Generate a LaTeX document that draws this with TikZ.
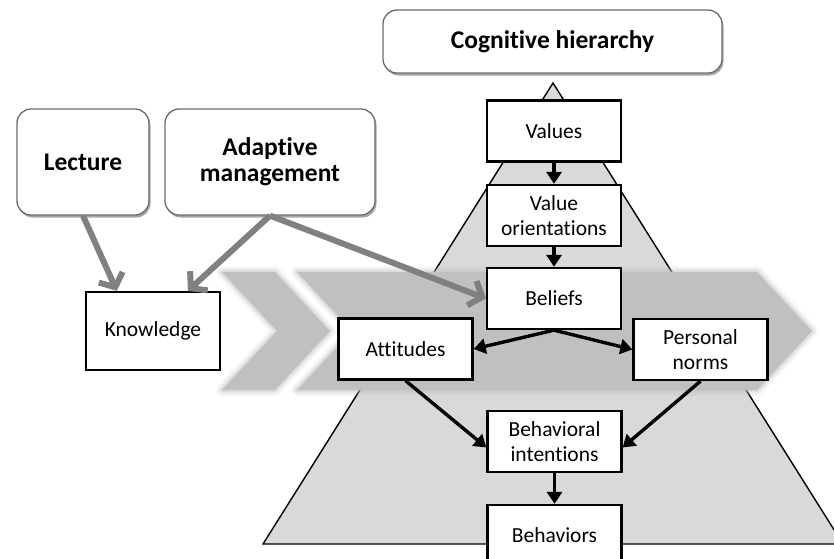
\documentclass[tikz,border=0pt]{standalone}
\usepackage{fontspec}
\setmainfont{Carlito}[Ligatures=NoCommon]
\usetikzlibrary{arrows.meta,shadows}

\definecolor{pyramidgray}{HTML}{D9D9D9}
\definecolor{chevgray}{HTML}{C0C0C0}
\definecolor{arrowgray}{HTML}{808080}
\definecolor{framegray}{HTML}{6A6A6A}

\begin{document}
\begin{tikzpicture}[x=1pt, y=-1pt,
    box/.style={draw=black, line width=2.3pt, fill=white, align=center, inner sep=0pt,
        minimum width=134pt, minimum height=61pt, font=\fontsize{21.5}{25}\selectfont},
    roundbox/.style={draw=framegray, line width=1.3pt, fill=white, rounded corners=14pt,
        align=center, inner sep=0pt, font=\bfseries\fontsize{25.5}{26}\selectfont,
        drop shadow={shadow xshift=1.5pt, shadow yshift=-2.5pt, fill=black, opacity=0.35}},
    feed/.style={draw=arrowgray, line width=6pt, -{Straight Barb[length=11pt,width=26pt]}},
    link/.style={draw=black, line width=3.4pt, -{Triangle[length=12pt,width=15pt]}}]
    \path[use as bounding box] (0,0) rectangle (834,558);
    \clip (0,0) rectangle (834,558);

    % pyramid
    \filldraw[fill=pyramidgray, draw=black, line width=1.4pt] (553,83) -- (843,544) -- (263,544) -- cycle;

    % chevrons, soft edge first
    \foreach \w/\o in {12/0.12, 8/0.2, 4/0.35}{
        \draw[chevgray, line width=\w pt, opacity=\o, line join=round]
            (222,272) -- (275,272) -- (330,331) -- (275,390) -- (222,390) -- (277,331) -- cycle
            (297,272) -- (757,272) -- (812,331) -- (757,390) -- (297,390) -- (352,331) -- cycle;
    }
    \fill[chevgray] (222,272) -- (275,272) -- (330,331) -- (275,390) -- (222,390) -- (277,331) -- cycle;
    \fill[chevgray] (297,272) -- (757,272) -- (812,331) -- (757,390) -- (297,390) -- (352,331) -- cycle;

    \node[roundbox, minimum width=339pt, minimum height=63pt] (cog) at (552.5,41.5) {Cognitive hierarchy};
    \node[roundbox, minimum width=132pt, minimum height=106pt] (lecture) at (83,162) {Lecture};
    \node[roundbox, minimum width=210pt, minimum height=106pt] (adapt) at (270,162) {Adaptive\\management};

    \node[box, minimum height=78pt] (know) at (153,331) {Knowledge};
    \node[box] (values) at (554,131) {Values};
    \node[box] (valor) at (554,215.5) {Value\\orientations};
    \node[box] (beliefs) at (554,298.5) {Beliefs};
    \node[box] (attitudes) at (405.5,349) {Attitudes};
    \node[box] (norms) at (700.5,349.5) {Personal\\norms};
    \node[box] (intent) at (554.5,441.5) {Behavioral\\intentions};
    \node[box] (behav) at (554.5,535.5) {Behaviors};

    \draw[feed] (lecture.south) -- (know.132);
    \draw[feed] (adapt.south) -- (know.49);
    \draw[feed] (adapt.south) -- (beliefs.west);

    \draw[link] (values) -- (valor);
    \draw[link] (valor) -- (beliefs);
    \draw[link] (beliefs.south) -- (attitudes.east);
    \draw[link] (beliefs.south) -- (norms.west);
    \draw[link] (attitudes.south) -- (intent.185);
    \draw[link] (norms.south) -- (intent.-5);
    \draw[link] (intent) -- (behav);
\end{tikzpicture}
\end{document}
